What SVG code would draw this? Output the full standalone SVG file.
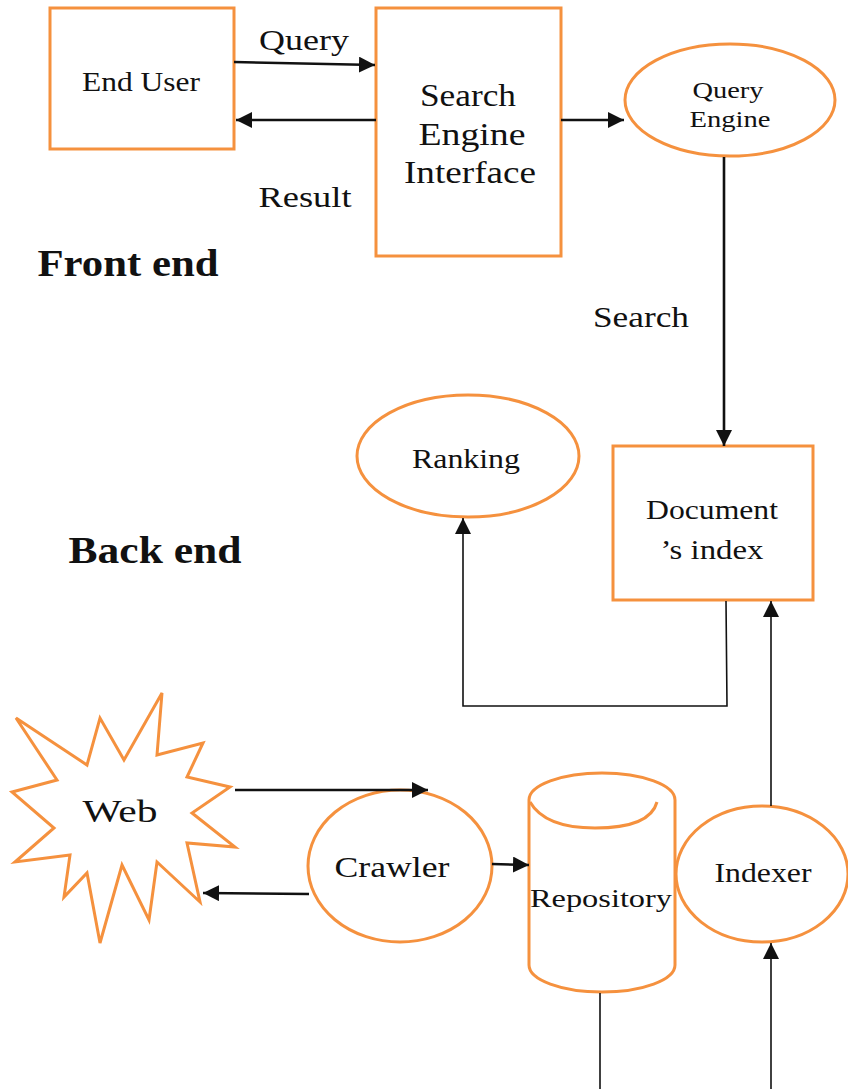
<svg xmlns="http://www.w3.org/2000/svg" width="848" height="1089" viewBox="0 0 848 1089">
<style>
.node{fill:#fff;stroke:#F5913E;stroke-width:3}
.t{font-family:"Liberation Serif","Times New Roman",serif;fill:#111;text-anchor:middle}
.b{font-weight:bold}
.c{fill:none;stroke:#111;stroke-width:2.6}
.thin{stroke-width:1.6}
</style>
<defs>
<marker id="ah" viewBox="0 0 10 10" refX="10" refY="5" markerWidth="16" markerHeight="16" markerUnits="userSpaceOnUse" orient="auto">
<path d="M0,0 L10,5 L0,10 z" fill="#111"/>
</marker>
</defs>

<g id="labels">
<text class="t" x="304" y="50" font-size="29" textLength="90" lengthAdjust="spacingAndGlyphs">Query</text>
<text class="t" x="305" y="207" font-size="29" textLength="93" lengthAdjust="spacingAndGlyphs">Result</text>
<text class="t" x="641" y="327" font-size="29" textLength="96" lengthAdjust="spacingAndGlyphs">Search</text>
<text class="t b" x="128" y="276" font-size="38" textLength="181" lengthAdjust="spacingAndGlyphs">Front end</text>
<text class="t b" x="155" y="563" font-size="38" textLength="173" lengthAdjust="spacingAndGlyphs">Back end</text>
</g>

<g id="end-user">
<rect class="node" x="50" y="8" width="184" height="141"/>
<text class="t" x="141" y="91" font-size="27" textLength="118" lengthAdjust="spacingAndGlyphs">End User</text>
</g>

<g id="search-engine-interface">
<rect class="node" x="376" y="8" width="185" height="248"/>
<text class="t" x="468" y="106" font-size="31" textLength="96" lengthAdjust="spacingAndGlyphs">Search</text>
<text class="t" x="472" y="145" font-size="31" textLength="107" lengthAdjust="spacingAndGlyphs">Engine</text>
<text class="t" x="470" y="183" font-size="31" textLength="132" lengthAdjust="spacingAndGlyphs">Interface</text>
</g>

<g id="query-engine">
<ellipse class="node" cx="730" cy="100" rx="105" ry="56"/>
<text class="t" x="728" y="98" font-size="24" textLength="71" lengthAdjust="spacingAndGlyphs">Query</text>
<text class="t" x="730" y="127" font-size="24" textLength="81" lengthAdjust="spacingAndGlyphs">Engine</text>
</g>

<g id="ranking">
<ellipse class="node" cx="468" cy="456" rx="111" ry="61"/>
<text class="t" x="466" y="468" font-size="27" textLength="108" lengthAdjust="spacingAndGlyphs">Ranking</text>
</g>

<g id="documents-index">
<rect class="node" x="613" y="446" width="200" height="154"/>
<text class="t" x="712" y="519" font-size="27" textLength="132" lengthAdjust="spacingAndGlyphs">Document</text>
<text class="t" x="712" y="559" font-size="27" textLength="103" lengthAdjust="spacingAndGlyphs">’s index</text>
</g>

<g id="web">
<polygon class="node" points="162,693 157,755 203,743 187,777 230,787 192,813 235,847 187,843 200,902 157,862 149,920 122,865 100,943 87,873 64,897 70,855 15,862 54,828 12,792 57,780 16,718 87,765 100,718 124,760"/>
<text class="t" x="120" y="822" font-size="31" textLength="75" lengthAdjust="spacingAndGlyphs">Web</text>
</g>

<g id="crawler">
<ellipse class="node" cx="400" cy="866" rx="92" ry="76"/>
<text class="t" x="392" y="877" font-size="29" textLength="115" lengthAdjust="spacingAndGlyphs">Crawler</text>
</g>

<g id="repository">
<path class="node" d="M529,800 A73,27 0 0 1 675,800 L675,965 A73,27 0 0 1 529,965 Z"/>
<path class="node" d="M530,802 Q545,828 595,828 Q650,828 657,802" style="fill:none"/>
<text class="t" x="601" y="907" font-size="26" textLength="142" lengthAdjust="spacingAndGlyphs">Repository</text>
</g>

<g id="indexer">
<ellipse class="node" cx="762" cy="874" rx="86" ry="68"/>
<text class="t" x="763" y="882" font-size="27" textLength="97" lengthAdjust="spacingAndGlyphs">Indexer</text>
</g>

<g id="connectors">
<line class="c" x1="234" y1="62" x2="375" y2="65" marker-end="url(#ah)"/>
<line class="c" x1="376" y1="120" x2="236" y2="120" marker-end="url(#ah)"/>
<line class="c" x1="561" y1="120" x2="624" y2="120" marker-end="url(#ah)"/>
<line class="c" x1="724" y1="157" x2="724" y2="446" marker-end="url(#ah)"/>
<polyline class="c thin" points="726,601 727,706 463,706 463,518" marker-end="url(#ah)"/>
<line class="c thin" x1="771" y1="806" x2="771" y2="601" marker-end="url(#ah)"/>
<line class="c" x1="235" y1="790" x2="428" y2="790" marker-end="url(#ah)"/>
<line class="c" x1="309" y1="894" x2="203" y2="893" marker-end="url(#ah)"/>
<line class="c" x1="492" y1="864" x2="529" y2="865" marker-end="url(#ah)"/>
<line class="c thin" x1="600" y1="993" x2="600" y2="1089"/>
<line class="c thin" x1="771" y1="1089" x2="771" y2="943" marker-end="url(#ah)"/>
</g>
</svg>
